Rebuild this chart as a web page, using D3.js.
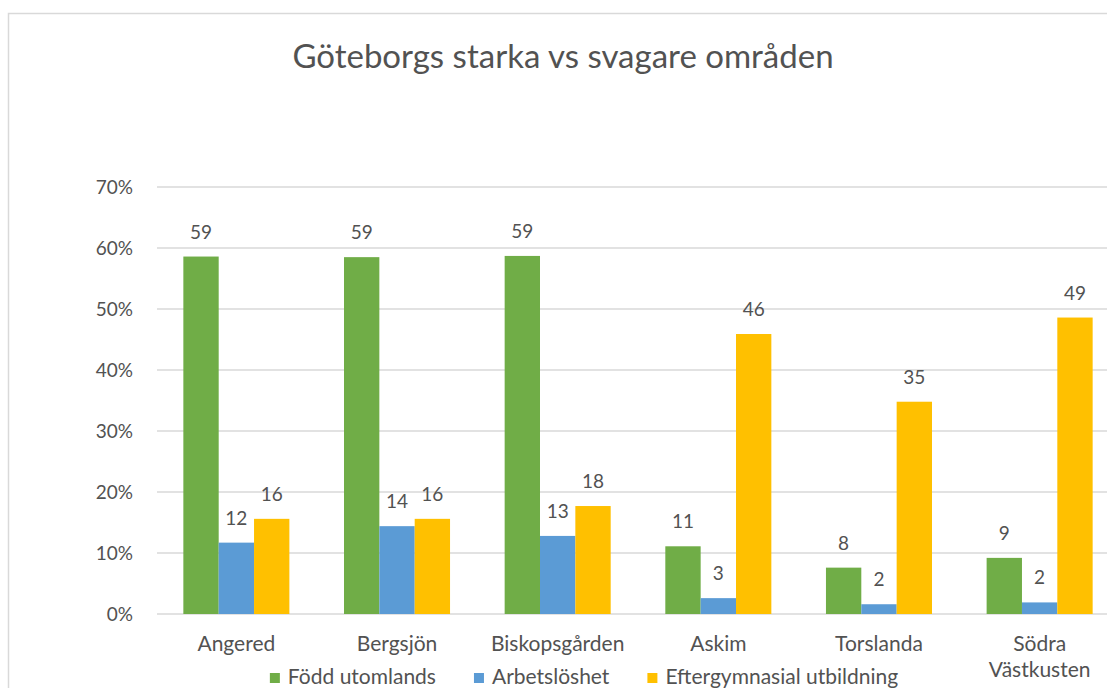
<!DOCTYPE html>
<head>
<meta charset="utf-8">
<style>
body { margin: 0; background: #fff; }
text { font-family: Lato, "Open Sans", sans-serif; fill: #525252; }
</style>
</head>
<body>
<script src="https://d3js.org/d3.v7.min.js"></script>
<script>
var title = "Göteborgs starka vs svagare områden";
var categories = ["Angered", "Bergsjön", "Biskopsgården", "Askim", "Torslanda", "Södra Västkusten"];
var seriesNames = ["Född utomlands", "Arbetslöshet", "Eftergymnasial utbildning"];
var seriesColors = ["#70ad47", "#5b9bd5", "#ffc000"];
var foddUtomlands = [58.6, 58.5, 58.7, 11.1, 7.6, 9.2];
var arbetsloshet = [11.7, 14.4, 12.8, 2.6, 1.6, 1.9];
var eftergymnasial = [15.6, 15.6, 17.7, 45.9, 34.8, 48.6];
var yTicks = [0, 10, 20, 30, 40, 50, 60, 70];

width = 1107, height = 688;
var series = [foddUtomlands, arbetsloshet, eftergymnasial];

svg = d3.select("body").append("svg")
    .attr("width", width)
    .attr("height", height);

// chart area border
svg.append("rect")
    .attr("x", 8.5)
    .attr("y", 13.5)
    .attr("width", 1130)
    .attr("height", 700)
    .attr("fill", "none")
    .attr("stroke", "#d9d9d9")
    .attr("stroke-width", 1.5);

svg.append("text")
    .attr("x", 563)
    .attr("y", 68)
    .attr("text-anchor", "middle")
    .style("font-size", "33px")
    .text(title);

x = d3.scaleBand()
    .domain(categories)
    .range([157, 1119])
    .paddingInner(0.34)
    .paddingOuter(0.164);

xs = d3.scaleBand()
    .domain(d3.range(seriesNames.length))
    .range([0, x.bandwidth()]);

y = d3.scaleLinear()
    .domain([0, 70])
    .range([614, 187]);

// gridlines
svg.append("g").selectAll("line")
    .data(yTicks)
    .enter().append("line")
    .attr("x1", 157)
    .attr("x2", 1119)
    .attr("y1", function (d) { return y(d); })
    .attr("y2", function (d) { return y(d); })
    .attr("stroke", "#d9d9d9")
    .attr("stroke-width", 1.5);

// y labels
svg.append("g").selectAll("text")
    .data(yTicks)
    .enter().append("text")
    .attr("x", 133)
    .attr("y", function (d) { return y(d); })
    .attr("dy", "0.36em")
    .attr("text-anchor", "end")
    .style("font-size", "19px")
    .text(function (d) { return d + "%"; });

// bars + labels
series.forEach(function (vals, s) {
    var g = svg.append("g");
    g.selectAll("rect")
        .data(vals)
        .enter().append("rect")
        .attr("x", function (d, i) { return x(categories[i]) + xs(s); })
        .attr("y", function (d) { return y(d); })
        .attr("width", xs.bandwidth())
        .attr("height", function (d) { return y(0) - y(d); })
        .attr("fill", seriesColors[s]);
    g.selectAll("text")
        .data(vals)
        .enter().append("text")
        .attr("x", function (d, i) { return x(categories[i]) + xs(s) + xs.bandwidth() / 2; })
        .attr("y", function (d) { return y(d) - 18; })
        .attr("text-anchor", "middle")
        .style("font-size", "19px")
        .text(function (d) { return Math.round(d); });
});

// category labels, wrapped on spaces
svg.append("g").selectAll("text")
    .data(categories)
    .enter().append("text")
    .attr("x", function (d) { return x(d) + x.bandwidth() / 2; })
    .attr("y", 651)
    .attr("text-anchor", "middle")
    .style("font-size", "21px")
    .each(function (d) {
        var words = d.split(" ");
        var t = d3.select(this);
        words.forEach(function (w, k) {
            t.append("tspan")
                .attr("x", x(d) + x.bandwidth() / 2)
                .attr("dy", k == 0 ? 0 : 26)
                .text(w);
        });
    });

// legend
var leg = svg.append("g");
var items = leg.selectAll("g")
    .data(seriesNames)
    .enter().append("g");
items.append("rect")
    .attr("y", 673)
    .attr("width", 10)
    .attr("height", 10)
    .attr("fill", function (d, i) { return seriesColors[i]; });
items.append("text")
    .attr("x", 18)
    .attr("y", 684)
    .style("font-size", "21px")
    .text(function (d) { return d; });
var pos = 0, offsets = [];
items.each(function () {
    offsets.push(pos);
    pos += 18 + d3.select(this).select("text").node().getComputedTextLength() + 38;
});
var legWidth = pos - 38;
var legStart = 584 - legWidth / 2;
items.attr("transform", function (d, i) { return "translate(" + (legStart + offsets[i]) + ",0)"; });
</script>
</body>
